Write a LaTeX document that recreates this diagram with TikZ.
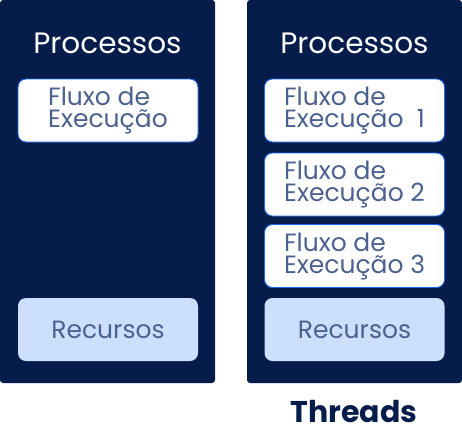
\documentclass[tikz,border=0pt]{standalone}
\usepackage{fontspec}
\setmainfont{Poppins}
\usetikzlibrary{positioning}
\definecolor{navy}{HTML}{061D4C}
\definecolor{slate}{HTML}{4B6190}
\definecolor{edgeblue}{HTML}{1A6DF0}
\definecolor{paleblue}{HTML}{CCE0FD}

\begin{document}
\begin{tikzpicture}[x=1pt,y=-1pt,
  panel/.style={fill=navy,rounded corners=3pt},
  title/.style={text=white,font=\fontsize{29.5}{30}\selectfont},
  flow/.style={draw=edgeblue,fill=white,rounded corners=8pt,line width=0.9pt,
    minimum width=180,minimum height=63,align=left,text=slate,
    inner sep=0pt,font=\fontsize{25}{22}\selectfont},
  res/.style={fill=paleblue,rounded corners=8pt,minimum width=180,minimum height=63,
    text=slate,inner sep=0pt,font=\fontsize{25}{22}\selectfont}]
\useasboundingbox (0,0) rectangle (462,447);

% Processos (left)
\fill[panel] (0,0) rectangle (215,383);
\node[title] (titleP) at (107.5,43) {Processos};
\node[flow] (flowP) at (108,110.5) {Fluxo de\\Execução};
\node[res] (resP) at (108,329.5) {Recursos};

% Threads (right)
\fill[panel] (247,0) rectangle (462,383);
\node[title] (titleT) at (354.5,43) {Processos};
\node[flow] (flowA) at (354.5,110.5) {Fluxo de\\Execução\ \ 1};
\node[flow] (flowB) at (354.5,184.5) {Fluxo de\\Execução 2};
\node[flow] (flowC) at (354.5,256) {Fluxo de\\Execução 3};
\node[res] (resT) at (354.5,329.5) {Recursos};

% caption
\node[text=navy,font=\fontsize{30}{30}\selectfont\bfseries] (caption) at (354,412) {Threads};

\end{tikzpicture}
\end{document}
